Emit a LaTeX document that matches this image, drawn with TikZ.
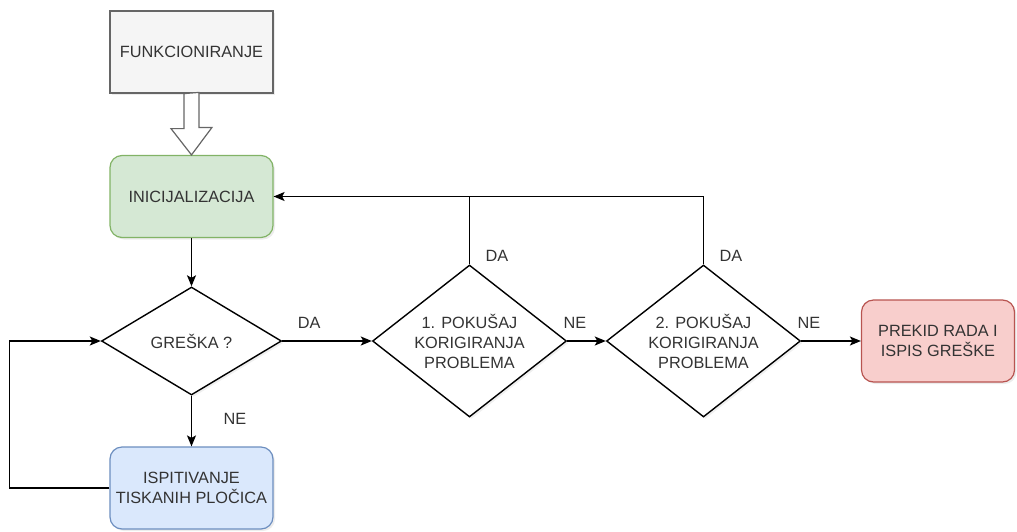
\documentclass[tikz,border=0pt]{standalone}
\usepackage{fontspec}
\setmainfont{Liberation Sans}
\usetikzlibrary{shapes.geometric, arrows, arrows.meta, shadows}
\usepackage{xcolor}
\definecolor{txtgrey}{HTML}{333333}
\definecolor{greyfill}{HTML}{F5F5F5}
\definecolor{greyline}{HTML}{666666}
\definecolor{greenfill}{HTML}{D5E8D4}
\definecolor{greenline}{HTML}{82B366}
\definecolor{bluefill}{HTML}{DAE8FC}
\definecolor{blueline}{HTML}{6C8EBF}
\definecolor{redfill}{HTML}{F8CECC}
\definecolor{redline}{HTML}{B85450}
\tikzstyle{boxtext} = [text=txtgrey, 
font=\fontsize{16.3pt}{20pt}\selectfont, 
align=center]
\tikzstyle{plainbox} = [rectangle, boxtext, 
minimum width=163pt, 
minimum height=82pt, 
line width=1.2pt, 
draw=greyline, 
fill=greyfill, 
drop shadow={opacity=0.15, shadow xshift=2pt, shadow yshift=-2pt}]
\tikzstyle{startbox} = [plainbox, rounded corners=12pt, 
draw=greenline, 
fill=greenfill]
\tikzstyle{testbox} = [plainbox, rounded corners=12pt, 
draw=blueline, 
fill=bluefill]
\tikzstyle{stopbox} = [plainbox, rounded corners=12pt, 
minimum width=153pt, 
draw=redline, 
fill=redfill]
\tikzstyle{decision} = [diamond, boxtext, 
inner sep=0pt, 
line width=1.4pt, 
draw=black, 
fill=white, 
drop shadow={opacity=0.12, shadow xshift=2pt, shadow yshift=-2pt}]
\tikzstyle{hollow} = [line width=1.2pt, draw=greyline, fill=white]
\tikzstyle{line} = [line width=1.4pt, draw=black]
\tikzstyle{arrow} = [line, ->, >={Stealth[length=11pt, width=9pt, inset=2.5pt]}]
\tikzstyle{lab} = [text=txtgrey, font=\fontsize{16.3pt}{20pt}\selectfont]

\begin{document}
\begin{tikzpicture}[node distance=144.5pt]
	\useasboundingbox (0,0) rectangle (1017pt,-531pt);
	
	\node (func) [plainbox] at (191.5pt,-52pt) {FUNKCIONIRANJE};
	
	\node (init) [startbox, below of=func] {INICIJALIZACIJA};
	
	\node (gre) [decision, below of=init, minimum width=180pt, minimum height=108pt, aspect=1.67] {GREŠKA ?};
	
	\node (isp) [testbox, below of=gre, yshift=-2.5pt] {ISPITIVANJE\\TISKANIH PLOČICA};
	
	\node (dia1) [decision, right of=gre, xshift=133.5pt, minimum width=194pt, minimum height=152pt, aspect=1.28] {1. POKUŠAJ\\KORIGIRANJA\\PROBLEMA};
	
	\node (dia2) [decision, right of=dia1, xshift=89.5pt, minimum width=194pt, minimum height=152pt, aspect=1.28] {2. POKUŠAJ\\KORIGIRANJA\\PROBLEMA};
	
	\node (stop) [stopbox, right of=dia2, xshift=90pt] {PREKID RADA I\\ISPIS GREŠKE};
	
	% hollow block arrow
	\draw [hollow] (func.south) ++(-7.5pt,0) -- ++(0,-35pt) -- ++(-13pt,0) -- (init.north) -- ++(20.5pt,27.5pt) -- ++(-13pt,0) -- ++(0,35pt) -- cycle;
	
	\draw [arrow] (init) -- (gre);
	\draw [arrow] (gre) -- node[lab, right=28pt, pos=0.45] {NE} (isp);
	\draw [arrow] (isp.west) -- ++(-100pt,0) |- (gre.west);
	\draw [arrow] (gre) -- node[lab, above=8pt, pos=0.3] {DA} (dia1);
	\draw [arrow] (dia1) -- node[lab, above=8pt, pos=0.2] {NE} (dia2);
	\draw [arrow] (dia2) -- node[lab, above=8pt, pos=0.13] {NE} (stop);
	\draw [arrow] (dia1.north) |- node[lab, right=12pt, pos=0.06] {DA} (init.east);
	\draw [line] (dia2.north) |- node[lab, right=12pt, pos=0.06] {DA} (dia1.north |- init.east);
	
\end{tikzpicture}
\end{document}
